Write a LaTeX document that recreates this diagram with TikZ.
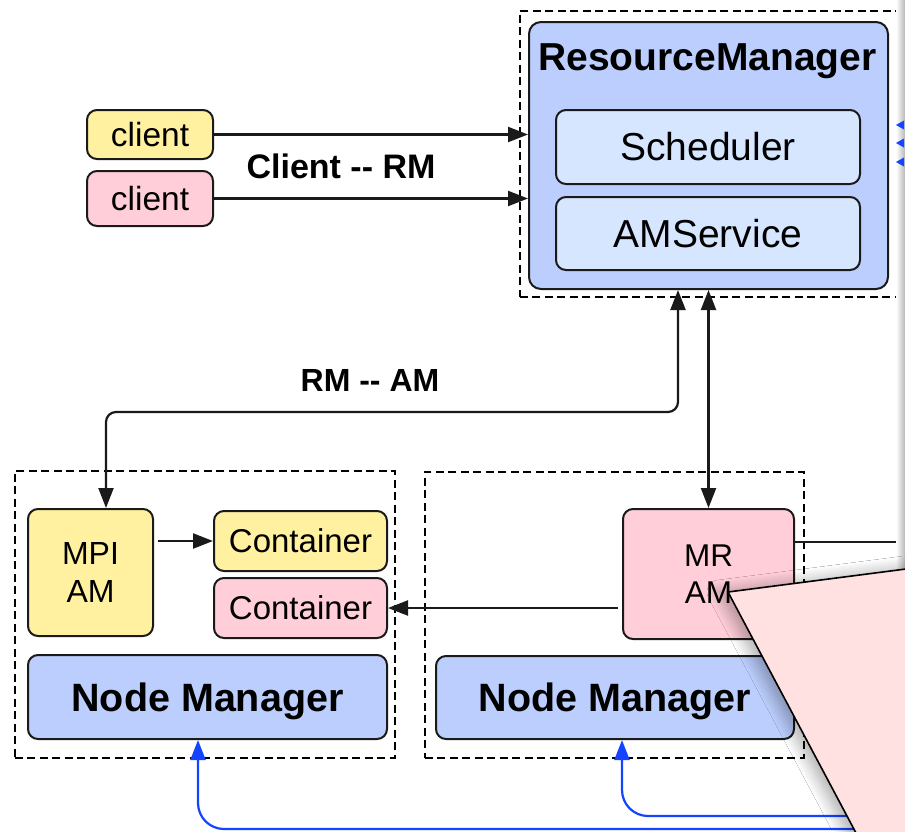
\documentclass[tikz,border=0pt]{standalone}
\usepackage{fontspec}
\setmainfont{Liberation Sans}
\usetikzlibrary{arrows.meta,shadows.blur}
\definecolor{rmblue}{HTML}{BBCEFD}
\definecolor{ltblue}{HTML}{D6E6FF}
\definecolor{yel}{HTML}{FFF1A0}
\definecolor{pnk}{HTML}{FFCED9}
\definecolor{callout}{HTML}{FFE1E2}
\definecolor{edgec}{HTML}{1A1A1A}
\definecolor{arrblue}{HTML}{1444FF}
\begin{document}
\begin{tikzpicture}[x=1pt,y=-1pt,
  box/.style={draw=edgec, line width=2pt, rounded corners=10pt, anchor=north west, inner sep=0pt},
  dbox/.style={draw=black, line width=1.6pt, dash pattern=on 8pt off 4.5pt, anchor=north west, inner sep=0pt},
  fsz/.style 2 args={font=\fontsize{#1}{#1}\selectfont, text height=#2pt, text depth=0pt},
  bfsz/.style 2 args={font=\bfseries\fontsize{#1}{#1}\selectfont, text height=#2pt, text depth=0pt},
  twoline/.style={box, align=center},
  lbl/.style={inner sep=0pt},
  arr/.style={line width=2.2pt, draw=edgec, -{Triangle[length=20pt,width=15pt]}},
  darr/.style={line width=2.2pt, draw=edgec, {Triangle[length=20pt,width=15pt]}-{Triangle[length=20pt,width=15pt]}},
  barr/.style={line width=2.2pt, draw=arrblue, -{Triangle[length=20pt,width=15pt]}, rounded corners=26pt}
]
\useasboundingbox (0,0) rectangle (905,831);
\fill[white] (0,0) rectangle (905,831);

% dashed groups
\node[dbox, minimum width=380pt, minimum height=286pt] (rmgrp) at (519,10) {};
\node[dbox, minimum width=380pt, minimum height=287pt] (nmgrp1) at (14,470) {};
\node[dbox, minimum width=379pt, minimum height=286pt] (nmgrp2) at (424,471) {};

% resource manager
\node[box, fill=rmblue, rounded corners=12pt, minimum width=359pt, minimum height=267pt] (rm) at (528,21) {};
\node[lbl, bfsz={39}{27.9}] (rmt) at (707.5,57) {ResourceManager};
\node[box, fill=ltblue, minimum width=304pt, minimum height=74pt, fsz={39}{27.9}] (sch) at (555,109) {Scheduler};
\node[box, fill=ltblue, minimum width=304pt, minimum height=73pt, fsz={39}{27.9}] (ams) at (555,196) {AMService};

% clients
\node[box, fill=yel, minimum width=126pt, minimum height=49pt, fsz={33.5}{24}] (c1) at (86,109) {client};
\node[box, fill=pnk, minimum width=126pt, minimum height=55pt, fsz={33.5}{24}] (c2) at (86,170) {client};
\node[lbl, bfsz={34}{24.3}] (lcr) at (341,166) {Client -{}- RM};

% node 1
\node[twoline, fill=yel, minimum width=125pt, minimum height=127pt, font=\fontsize{32}{38}\selectfont] (mpi) at (27,508) {MPI\\AM};
\node[box, fill=yel, minimum width=173pt, minimum height=60pt, fsz={33}{23.6}] (ct1) at (213,510) {Container};
\node[box, fill=pnk, minimum width=173pt, minimum height=60pt, fsz={33}{23.6}] (ct2) at (213,577) {Container};
\node[box, fill=rmblue, minimum width=359pt, minimum height=84pt, bfsz={39.5}{28.3}] (nm1) at (27,654) {Node Manager};

% node 2
\node[twoline, fill=pnk, minimum width=171pt, minimum height=130pt, font=\fontsize{31.5}{37}\selectfont] (mr) at (622,508) {MR\\AM};
\node[box, fill=rmblue, minimum width=358pt, minimum height=83pt, bfsz={39.5}{28.3}] (nm2) at (435,655) {Node Manager};

\node[lbl, bfsz={32}{22.9}] (lra) at (370,380) {RM -{}- AM};

% connectors
\draw[arr] (c1.east) -- (c1.east -| rm.west);
\draw[arr] (c2.east) -- (c2.east -| rm.west);
\draw[darr, rounded corners=10pt] ([xshift=-30.5pt]rm.south) -- ++(0,122) -| ([xshift=15.5pt]mpi.north);
\draw[darr] (rm.south) -- (mr.north);
\draw[arr, shorten <=4pt] (ct1.west -| mpi.east) -- (ct1.west);
\draw[arr, shorten <=4pt] (ct2.east -| mr.west) -- (ct2.east);
\coordinate (offr) at (910,542);
\draw[line width=2.2pt, draw=edgec] (mr.east |- offr) -- (offr);
\coordinate (bl1) at (905,829);
\coordinate (bl2) at (905,816);
\draw[barr] (bl1) -| ([xshift=-9.5pt]nm1.south);
\draw[barr] (bl2) -| ([xshift=7pt]nm2.south);

% right page edge
\shade[left color=white, right color=black!28] (896,-5) rectangle (905,836);
\foreach \yy in {125,143,162}{
  \fill[arrblue] (896,\yy) -- (904,\yy-4.5) -- (904,\yy+4.5) -- cycle;
}

% callout
\draw[fill=callout, draw=black, line width=1.6pt,
  blur shadow={shadow xshift=-9pt, shadow yshift=0pt, shadow blur radius=12pt, shadow opacity=32, shadow blur steps=12}]
  (728,592) -- (960,562) -- (960,900) -- (891.6,900) -- cycle;
\end{tikzpicture}
\end{document}
